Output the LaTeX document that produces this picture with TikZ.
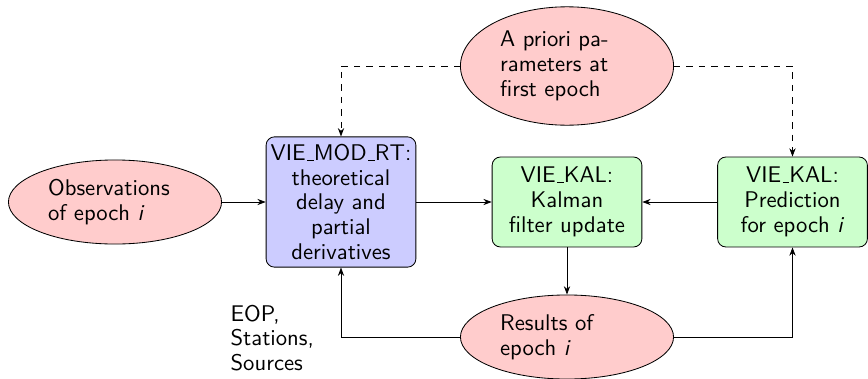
\documentclass[tikz,border=0pt]{standalone}
\usetikzlibrary{shapes.geometric,arrows.meta}
\newcommand\usc{\leavevmode\kern.06em\vbox{\hrule width.3em}}
\begin{document}
\begin{tikzpicture}[x=0.01689cm,y=-0.01689cm,
  font=\sffamily\fontsize{10.9}{11.9}\selectfont,
  every node/.style={inner sep=2pt},
  ell/.style={ellipse,draw,fill=red!20,minimum width=3.6cm,minimum height=1.42cm,text width=2.26cm,align=left},
  blk/.style={rectangle,draw,rounded corners=4pt,minimum width=2.53cm,align=center},
  arr/.style={-{Stealth[length=4pt,width=3pt]}},
  darr/.style={dashed,-{Stealth[length=4pt,width=3pt]}}]
\useasboundingbox (0,0) rectangle (868,379);
\node[ell] (obs) at (115,202) {Observations\\of epoch \textit{i}};
\node[blk,fill=blue!20,minimum height=2.2cm] (mod) at (341,202) {VIE\usc MOD\usc RT:\\theoretical\\delay and\\partial\\derivatives};
\node[blk,fill=green!20,minimum height=1.52cm] (kal) at (567,202) {VIE\usc KAL:\\Kalman\\filter update};
\node[blk,fill=green!20,minimum height=1.52cm] (pred) at (792.5,202) {VIE\usc KAL:\\Prediction\\for epoch \textit{i}};
\node[ell,minimum height=2.0cm] (apr) at (567,66) {A priori pa-\\rameters at\\first epoch};
\node[ell] (res) at (567,337) {Results of\\epoch \textit{i}};
\node[anchor=west,align=left] (eop) at (226,338) {EOP,\\Stations,\\Sources};
\coordinate (c1) at (mod.north |- apr.west);
\coordinate (c2) at (pred.north |- apr.east);
\coordinate (c3) at (mod.south |- res.west);
\coordinate (c4) at (pred.south |- res.east);
\draw[darr] (apr.west) -- (c1) -- (mod.north);
\draw[darr] (apr.east) -- (c2) -- (pred.north);
\draw[arr] (obs) -- (mod);
\draw[arr] (mod) -- (kal);
\draw[arr] (pred) -- (kal);
\draw[arr] (kal) -- (res);
\draw[arr] (res.west) -- (c3) -- (mod.south);
\draw[arr] (res.east) -- (c4) -- (pred.south);
\end{tikzpicture}
\end{document}
